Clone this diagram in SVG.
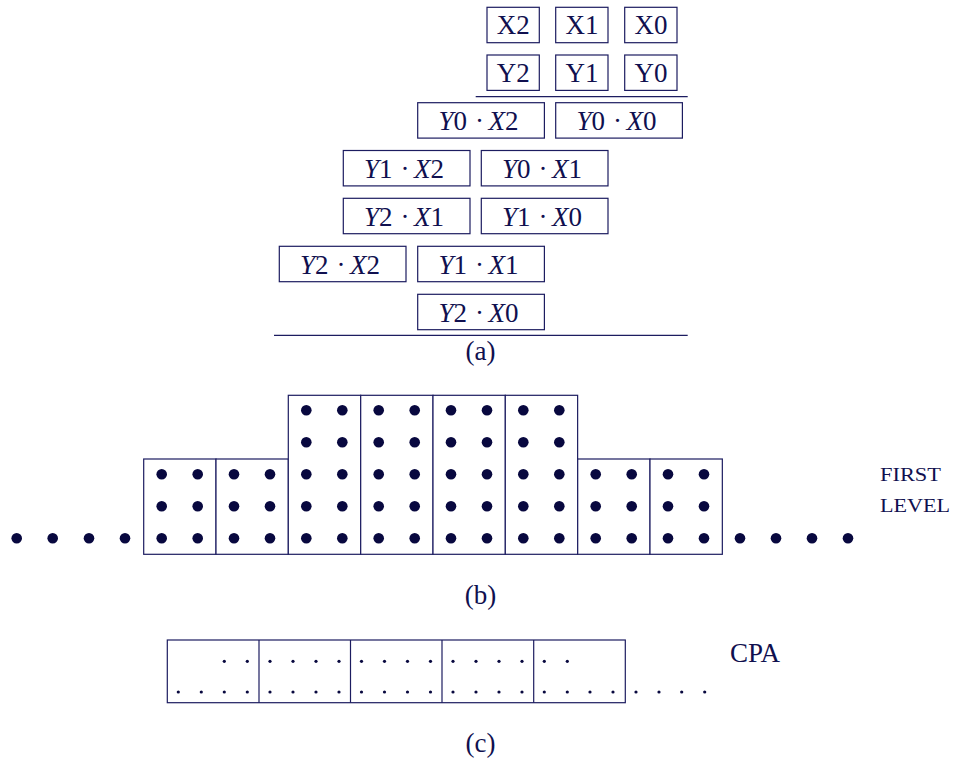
<svg xmlns="http://www.w3.org/2000/svg" width="953" height="762" viewBox="0 0 953 762">
<style>
  .bx { fill: #ffffff; stroke: #1c1c60; stroke-width: 1.2; }
  .ln { stroke: #1c1c60; stroke-width: 1.2; fill: none; }
  text { font-family: 'Liberation Serif', 'Times New Roman', 'DejaVu Serif', serif; fill: #10104f; }
  .t { font-size: 27px; }
  .i { font-style: italic; }
  .sc { font-size: 18.5px; }
  .bd { fill: #08083f; }
  .sd { fill: #08083f; }
</style>
<rect width="953" height="762" fill="#ffffff"/>

<!-- (a) operands -->
<g id="x2"><rect class="bx" x="487" y="7.3" width="52.3" height="35.4"/><text class="t" x="513.2" y="34.3" text-anchor="middle">X2</text></g>
<g id="x1"><rect class="bx" x="555.7" y="7.3" width="52.3" height="35.4"/><text class="t" x="581.9" y="34.3" text-anchor="middle">X1</text></g>
<g id="x0"><rect class="bx" x="624.7" y="7.3" width="52.3" height="35.4"/><text class="t" x="650.9" y="34.3" text-anchor="middle">X0</text></g>
<g id="y2"><rect class="bx" x="487" y="55" width="52.3" height="35.4"/><text class="t" x="513.2" y="82" text-anchor="middle">Y2</text></g>
<g id="y1"><rect class="bx" x="555.7" y="55" width="52.3" height="35.4"/><text class="t" x="581.9" y="82" text-anchor="middle">Y1</text></g>
<g id="y0"><rect class="bx" x="624.7" y="55" width="52.3" height="35.4"/><text class="t" x="650.9" y="82" text-anchor="middle">Y0</text></g>

<g id="rules">
  <line class="ln" x1="475.7" y1="96.7" x2="687.7" y2="96.7"/>
  <line class="ln" x1="274" y1="335.3" x2="687.7" y2="335.3"/>
</g>

<!-- partial products -->
<g id="p_y0x2"><rect class="bx" x="417.7" y="102.7" width="126.7" height="35.4"/>
  <text class="t" x="467" y="130" text-anchor="end"><tspan class="i">Y</tspan>0</text><text class="t" x="479.4" y="130" text-anchor="middle">·</text><text class="t" x="488.5" y="130"><tspan class="i">X</tspan>2</text></g>
<g id="p_y0x0"><rect class="bx" x="555.7" y="102.7" width="126.7" height="35.4"/>
  <text class="t" x="605" y="130" text-anchor="end"><tspan class="i">Y</tspan>0</text><text class="t" x="617.4" y="130" text-anchor="middle">·</text><text class="t" x="626.5" y="130"><tspan class="i">X</tspan>0</text></g>
<g id="p_y1x2"><rect class="bx" x="343.3" y="150.5" width="126.7" height="35.4"/>
  <text class="t" x="392.6" y="177.8" text-anchor="end"><tspan class="i">Y</tspan>1</text><text class="t" x="405" y="177.8" text-anchor="middle">·</text><text class="t" x="414.1" y="177.8"><tspan class="i">X</tspan>2</text></g>
<g id="p_y0x1"><rect class="bx" x="481.3" y="150.5" width="126.7" height="35.4"/>
  <text class="t" x="530.6" y="177.8" text-anchor="end"><tspan class="i">Y</tspan>0</text><text class="t" x="543" y="177.8" text-anchor="middle">·</text><text class="t" x="552.1" y="177.8"><tspan class="i">X</tspan>1</text></g>
<g id="p_y2x1"><rect class="bx" x="343.3" y="198.3" width="126.7" height="35.4"/>
  <text class="t" x="392.6" y="225.6" text-anchor="end"><tspan class="i">Y</tspan>2</text><text class="t" x="405" y="225.6" text-anchor="middle">·</text><text class="t" x="414.1" y="225.6"><tspan class="i">X</tspan>1</text></g>
<g id="p_y1x0"><rect class="bx" x="481.3" y="198.3" width="126.7" height="35.4"/>
  <text class="t" x="530.6" y="225.6" text-anchor="end"><tspan class="i">Y</tspan>1</text><text class="t" x="543" y="225.6" text-anchor="middle">·</text><text class="t" x="552.1" y="225.6"><tspan class="i">X</tspan>0</text></g>
<g id="p_y2x2"><rect class="bx" x="279.3" y="246.3" width="126.7" height="35.4"/>
  <text class="t" x="328.6" y="273.6" text-anchor="end"><tspan class="i">Y</tspan>2</text><text class="t" x="341" y="273.6" text-anchor="middle">·</text><text class="t" x="350.1" y="273.6"><tspan class="i">X</tspan>2</text></g>
<g id="p_y1x1"><rect class="bx" x="417.7" y="246.3" width="126.7" height="35.4"/>
  <text class="t" x="467" y="273.6" text-anchor="end"><tspan class="i">Y</tspan>1</text><text class="t" x="479.4" y="273.6" text-anchor="middle">·</text><text class="t" x="488.5" y="273.6"><tspan class="i">X</tspan>1</text></g>
<g id="p_y2x0"><rect class="bx" x="417.7" y="294.3" width="126.7" height="35.4"/>
  <text class="t" x="467" y="321.6" text-anchor="end"><tspan class="i">Y</tspan>2</text><text class="t" x="479.4" y="321.6" text-anchor="middle">·</text><text class="t" x="488.5" y="321.6"><tspan class="i">X</tspan>0</text></g>

<text class="t" x="480.5" y="360" text-anchor="middle">(a)</text>

<!-- (b) dot diagram -->
<defs>
  <g id="sblk">
    <rect class="bx" x="0" y="0" width="72.33" height="95.3"/>
    <circle class="bd" cx="18" cy="15.3" r="5.3"/><circle class="bd" cx="54" cy="15.3" r="5.3"/>
    <circle class="bd" cx="18" cy="47.3" r="5.3"/><circle class="bd" cx="54" cy="47.3" r="5.3"/>
    <circle class="bd" cx="18" cy="79.3" r="5.3"/><circle class="bd" cx="54" cy="79.3" r="5.3"/>
  </g>
  <g id="tblk">
    <rect class="bx" x="0" y="0" width="72.33" height="159"/>
    <circle class="bd" cx="18" cy="15" r="5.3"/><circle class="bd" cx="54" cy="15" r="5.3"/>
    <circle class="bd" cx="18" cy="47" r="5.3"/><circle class="bd" cx="54" cy="47" r="5.3"/>
    <circle class="bd" cx="18" cy="79" r="5.3"/><circle class="bd" cx="54" cy="79" r="5.3"/>
    <circle class="bd" cx="18" cy="111" r="5.3"/><circle class="bd" cx="54" cy="111" r="5.3"/>
    <circle class="bd" cx="18" cy="143" r="5.3"/><circle class="bd" cx="54" cy="143" r="5.3"/>
  </g>
</defs>
<g id="level1">
  <use href="#sblk" x="143.7" y="459"/>
  <use href="#sblk" x="216" y="459"/>
  <use href="#tblk" x="288.3" y="395.3"/>
  <use href="#tblk" x="360.7" y="395.3"/>
  <use href="#tblk" x="433" y="395.3"/>
  <use href="#tblk" x="505.3" y="395.3"/>
  <use href="#sblk" x="577.7" y="459"/>
  <use href="#sblk" x="650" y="459"/>
</g>
<g id="ldots">
  <circle class="bd" cx="16.7" cy="538.3" r="5.3"/><circle class="bd" cx="52.7" cy="538.3" r="5.3"/>
  <circle class="bd" cx="89" cy="538.3" r="5.3"/><circle class="bd" cx="125" cy="538.3" r="5.3"/>
</g>
<g id="rdots">
  <circle class="bd" cx="740" cy="538.3" r="5.3"/><circle class="bd" cx="776" cy="538.3" r="5.3"/>
  <circle class="bd" cx="812" cy="538.3" r="5.3"/><circle class="bd" cx="848" cy="538.3" r="5.3"/>
</g>
<g id="firstlevel">
  <text class="sc" x="880" y="481" textLength="61" lengthAdjust="spacingAndGlyphs">FIRST</text>
  <text class="sc" x="880" y="511.7" textLength="70" lengthAdjust="spacingAndGlyphs">LEVEL</text>
</g>
<text class="t" x="480.5" y="604" text-anchor="middle">(b)</text>

<!-- (c) CPA -->
<g id="cpa">
  <rect class="bx" x="167.3" y="640" width="458" height="62.7"/>
  <line class="ln" x1="259" y1="640" x2="259" y2="702.7"/>
  <line class="ln" x1="350.5" y1="640" x2="350.5" y2="702.7"/>
  <line class="ln" x1="442" y1="640" x2="442" y2="702.7"/>
  <line class="ln" x1="533.7" y1="640" x2="533.7" y2="702.7"/>
  <g id="cdots">
    <circle class="sd" cx="224.3" cy="661.3" r="1.6"/><circle class="sd" cx="247.3" cy="661.3" r="1.6"/>
    <circle class="sd" cx="270" cy="661.3" r="1.6"/><circle class="sd" cx="293" cy="661.3" r="1.6"/><circle class="sd" cx="316" cy="661.3" r="1.6"/><circle class="sd" cx="339" cy="661.3" r="1.6"/>
    <circle class="sd" cx="361.5" cy="661.3" r="1.6"/><circle class="sd" cx="384.5" cy="661.3" r="1.6"/><circle class="sd" cx="407.5" cy="661.3" r="1.6"/><circle class="sd" cx="430.5" cy="661.3" r="1.6"/>
    <circle class="sd" cx="453" cy="661.3" r="1.6"/><circle class="sd" cx="476" cy="661.3" r="1.6"/><circle class="sd" cx="499" cy="661.3" r="1.6"/><circle class="sd" cx="522" cy="661.3" r="1.6"/>
    <circle class="sd" cx="544.3" cy="661.3" r="1.6"/><circle class="sd" cx="567.3" cy="661.3" r="1.6"/>

    <circle class="sd" cx="178.3" cy="692" r="1.6"/><circle class="sd" cx="201.3" cy="692" r="1.6"/><circle class="sd" cx="224.3" cy="692" r="1.6"/><circle class="sd" cx="247.3" cy="692" r="1.6"/>
    <circle class="sd" cx="270" cy="692" r="1.6"/><circle class="sd" cx="293" cy="692" r="1.6"/><circle class="sd" cx="316" cy="692" r="1.6"/><circle class="sd" cx="339" cy="692" r="1.6"/>
    <circle class="sd" cx="361.5" cy="692" r="1.6"/><circle class="sd" cx="384.5" cy="692" r="1.6"/><circle class="sd" cx="407.5" cy="692" r="1.6"/><circle class="sd" cx="430.5" cy="692" r="1.6"/>
    <circle class="sd" cx="453" cy="692" r="1.6"/><circle class="sd" cx="476" cy="692" r="1.6"/><circle class="sd" cx="499" cy="692" r="1.6"/><circle class="sd" cx="522" cy="692" r="1.6"/>
    <circle class="sd" cx="544.3" cy="692" r="1.6"/><circle class="sd" cx="567.3" cy="692" r="1.6"/><circle class="sd" cx="590" cy="692" r="1.6"/><circle class="sd" cx="613" cy="692" r="1.6"/>
    <circle class="sd" cx="636" cy="692" r="1.6"/><circle class="sd" cx="659" cy="692" r="1.6"/><circle class="sd" cx="681.7" cy="692" r="1.6"/><circle class="sd" cx="704.7" cy="692" r="1.6"/>
  </g>
  <text class="t" x="730" y="661.7">CPA</text>
</g>
<text class="t" x="480.5" y="752" text-anchor="middle">(c)</text>
</svg>
